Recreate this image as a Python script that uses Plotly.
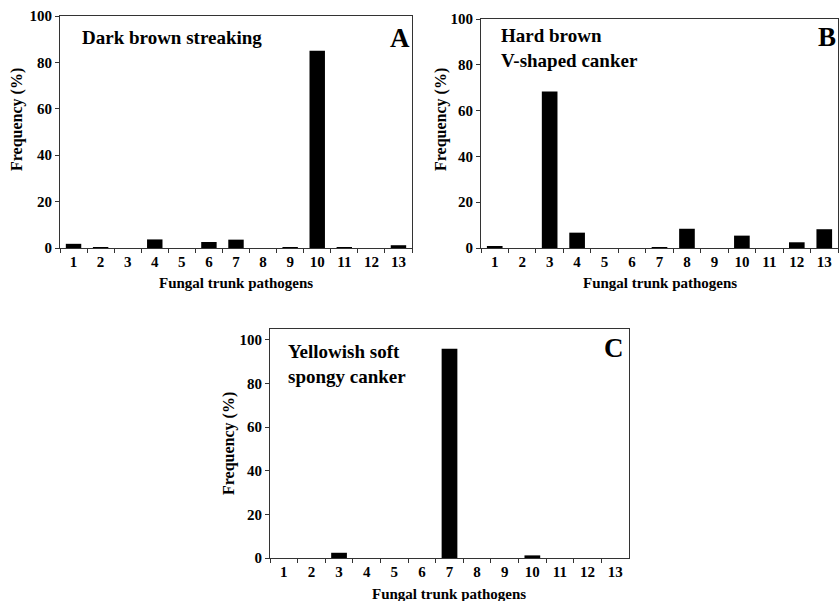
import plotly.graph_objects as go

categories = [str(i) for i in range(1, 14)]
freq_A = [1.8, 0.4, 0, 3.7, 0, 2.6, 3.6, 0, 0.3, 85, 0.4, 0, 1.2]
freq_B = [0.5, 0, 68.3, 6.7, 0, 0, 0.4, 8.4, 0, 5.4, 0, 2.5, 8.2]
freq_C = [0, 0, 2.4, 0, 0, 0, 96, 0, 0, 1.2, 0, 0, 0]
y_ticks = [0, 20, 40, 60, 80, 100]

W, H = 839, 601
FONT = "Liberation Serif"

def px_x(a, b):
    return [a / W, b / W]

def px_y(top, bottom):
    return [1 - bottom / H, 1 - top / H]

fig = go.Figure()
panels = [
    ("x", "y", freq_A, px_x(60, 412), px_y(16, 248), [0, 100]),
    ("x2", "y2", freq_B, px_x(481, 838), px_y(19, 248), [0, 100]),
    ("x3", "y3", freq_C, px_x(270, 629), px_y(329, 558), [0, 105]),
]

layout = dict(
    width=W, height=H, margin=dict(l=0, r=0, t=0, b=0, pad=0, autoexpand=False),
    paper_bgcolor="white", plot_bgcolor="white", showlegend=False,
    font=dict(family=FONT, size=14, color="black"),
    bargap=0.43,
)

for i, (xa, ya, vals, xd, yd, yr) in enumerate(panels):
    fig.add_trace(go.Bar(x=categories, y=vals, xaxis=xa, yaxis=ya,
                         marker=dict(color="black", line=dict(width=0))))
    suffix = "" if i == 0 else str(i + 1)
    layout["xaxis" + suffix] = dict(
        domain=xd, anchor=ya, type="category", tickson="boundaries",
        ticks="outside", ticklen=4, tickcolor="#333", showline=True,
        linecolor="#333", linewidth=1, mirror=True, showgrid=False,
        automargin=False,
        tickfont=dict(family=FONT, size=15, color="black", weight="bold"),
        range=[-0.5, 12.5],
    )
    layout["yaxis" + suffix] = dict(
        domain=yd, anchor=xa, range=yr, tickvals=y_ticks, ticks="outside",
        ticklen=4, tickcolor="#333", showline=True, linecolor="#333",
        linewidth=1, mirror=True, showgrid=False, zeroline=False,
        automargin=False,
        tickfont=dict(family=FONT, size=15, color="black", weight="bold"),
    )

fig.update_layout(**layout)

def ann(text, x, y, size, xanchor="left", angle=0):
    fig.add_annotation(text=text, x=x / W, y=1 - y / H, xref="paper", yref="paper",
                       xanchor=xanchor, yanchor="middle", showarrow=False,
                       textangle=angle, align="left",
                       font=dict(family=FONT, size=size, color="black", weight="bold"))

# Panel titles
ann("Dark brown streaking", 80, 38, 19)
ann("A", 412, 38, 27, xanchor="right")
ann("Hard brown<br>V-shaped canker", 499, 48, 19)
ann("B", 838, 37, 27, xanchor="right")
ann("Yellowish soft<br>spongy canker", 286, 364, 19)
ann("C", 626, 348, 27, xanchor="right")

# Axis titles
ann("Frequency (%)", 17, 120, 16, xanchor="center", angle=-90)
ann("Frequency (%)", 441, 120, 16, xanchor="center", angle=-90)
ann("Frequency (%)", 229, 444, 16, xanchor="center", angle=-90)
ann("Fungal trunk pathogens", 236, 283, 15, xanchor="center")
ann("Fungal trunk pathogens", 660, 283, 15, xanchor="center")
ann("Fungal trunk pathogens", 449, 594, 15, xanchor="center")

post = (
    "var s=document.createElement('style');"
    "s.textContent='html,body{margin:0!important;padding:0!important;overflow:hidden;}';"
    "document.head.appendChild(s);"
)
fig.write_html("out.html", config={"displayModeBar": False}, post_script=post)
